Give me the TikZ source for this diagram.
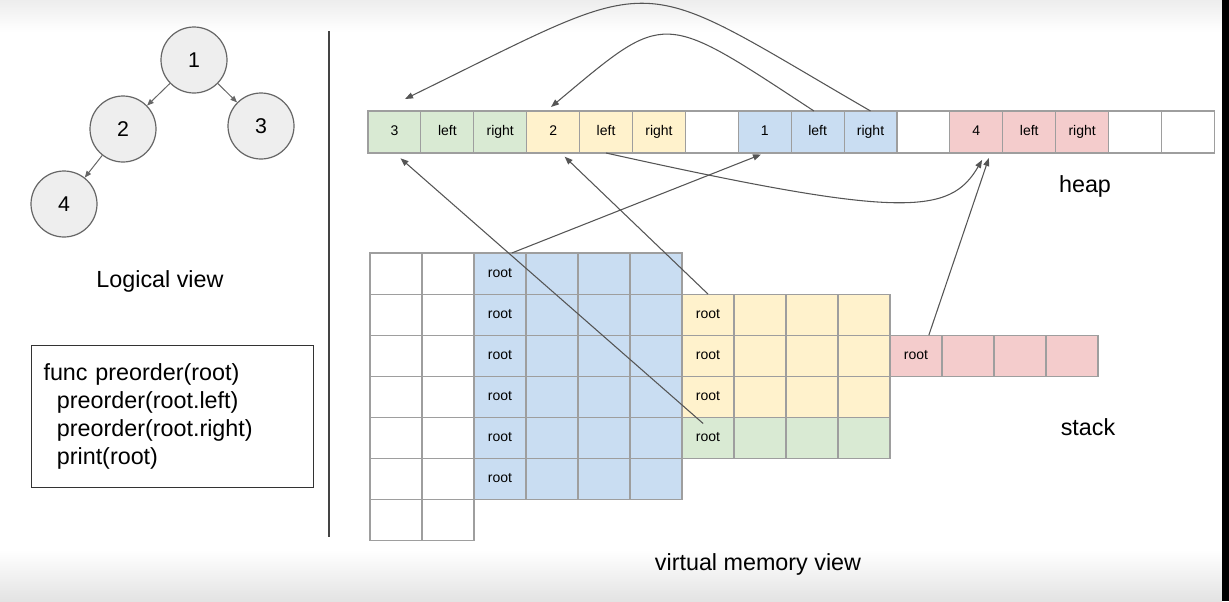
\documentclass[tikz,border=0pt]{standalone}
\usepackage{fontspec}
\setmainfont{Liberation Sans}
\usetikzlibrary{arrows.meta}

\definecolor{cellgreen}{HTML}{D9EAD3}
\definecolor{cellyellow}{HTML}{FFF2CC}
\definecolor{cellblue}{HTML}{C9DDF2}
\definecolor{cellpink}{HTML}{F4CCCC}
\definecolor{cellline}{HTML}{9E9E9E}
\definecolor{ptrline}{HTML}{555555}
\definecolor{treefill}{HTML}{EEEEEE}
\definecolor{treeline}{HTML}{666666}
\definecolor{divline}{HTML}{444444}

\begin{document}
\begin{tikzpicture}[x=0.75pt,y=0.75pt,yscale=-1,xscale=1,
  cell/.style={draw=cellline, line width=0.8pt, inner sep=0pt, outer sep=0pt, text height=7.5pt, text depth=2pt, font=\fontsize{10.5}{12}\selectfont},
  heapcell/.style={cell, minimum width=39.675pt, minimum height=31.5pt},
  stackcell/.style={cell, minimum width=39pt, minimum height=30.8pt},
  treenode/.style={circle, draw=treeline, fill=treefill, line width=0.9pt, minimum size=49.5pt, inner sep=0pt, font=\fontsize{16}{19}\selectfont},
  treeedge/.style={draw=treeline, line width=0.75pt, -{Triangle[length=5pt,width=4pt]}},
  viewtext/.style={font=\fontsize{17.5}{20}\selectfont},
  ptr/.style={draw=ptrline, line width=0.8pt, -{Triangle[length=6pt,width=4.5pt]}}
]
\useasboundingbox (0,0) rectangle (1229,601);

%Background strips
\shade[top color=black!7, bottom color=white] (0,0) rectangle (1222,32);
\shade[top color=white, bottom color=black!11] (0,550) rectangle (1222,601);
\fill[black] (1222,0) rectangle (1229,601);

%Logical view: tree
\node[treenode] (n1) at (194,60) {1};
\node[treenode] (n2) at (123,129) {2};
\node[treenode] (n3) at (261,126) {3};
\node[treenode] (n4) at (64,204) {4};
\draw[treeedge] (n1) -- (n2);
\draw[treeedge] (n1) -- (n3);
\draw[treeedge] (n2) -- (n4);
% Text Node
\node[viewtext] (logical) at (160,281) {Logical view};

%Code box
\node[draw=black!80, line width=0.8pt, anchor=north west, minimum width=211.5pt, minimum height=106.5pt,
  text width=193.5pt, inner xsep=9pt, align=left, font=\fontsize{17.5}{21}\selectfont] (code) at (31,345)
  {func preorder(root)\\\hspace*{10pt}preorder(root.left)\\\hspace*{10pt}preorder(root.right)\\\hspace*{10pt}print(root)};

%Divider
\draw[draw=divline, line width=1pt] (329,31) -- (329,537);

%Heap row
\foreach \i/\t/\c in {0/3/cellgreen,1/left/cellgreen,2/right/cellgreen,3/2/cellyellow,4/left/cellyellow,5/right/cellyellow,6//white,7/1/cellblue,8/left/cellblue,9/right/cellblue,10//white,11/4/cellpink,12/left/cellpink,13/right/cellpink,14//white,15//white}
  \node[heapcell, fill=\c] (h\i) at ({394.45+52.9*\i},132) {\t};
% Text Node
\node[viewtext] (heap) at (1085,186) {heap};

%Stack: free columns
\foreach \r in {0,...,6} \foreach \c in {0,1}
  \node[stackcell] (s\r-\c) at ({396+52*\c},{273.5+41.1*\r}) {};
%Stack: frame of preorder(1)
\foreach \r in {0,...,5} \foreach \c in {2,...,5}
  \node[stackcell, fill=cellblue] (s\r-\c) at ({396+52*\c},{273.5+41.1*\r}) {\ifnum\c=2 root\fi};
%Stack: frame of preorder(2)
\foreach \r in {1,2,3} \foreach \c in {6,...,9}
  \node[stackcell, fill=cellyellow] (s\r-\c) at ({396+52*\c},{273.5+41.1*\r}) {\ifnum\c=6 root\fi};
%Stack: frame of preorder(3)
\foreach \c in {6,...,9}
  \node[stackcell, fill=cellgreen] (s4-\c) at ({396+52*\c},{273.5+41.1*4}) {\ifnum\c=6 root\fi};
%Stack: frame of preorder(4)
\foreach \c in {10,...,13}
  \node[stackcell, fill=cellpink] (s2-\c) at ({396+52*\c},{273.5+41.1*2}) {\ifnum\c=10 root\fi};
% Text Node
\node[viewtext] (stack) at (1088,427) {stack};
% Text Node
\node[viewtext] (vmem) at (758,564) {virtual memory view};

%Pointers from stack to heap
\draw[ptr, shorten >=3pt] (s0-2.60) -- (h7.south);
\draw[ptr, shorten >=6pt, shorten <=-7pt] (s4-6.120) -- (h0.south);
\draw[ptr, shorten >=4pt] (s1-6.north) -- (h3.-70);
\draw[ptr, shorten >=4pt] (s2-10.58) -- (h11.-56);

%Pointers inside heap
\coordinate (t3) at (405,99);
\coordinate (t2) at (551,107);
\draw[ptr] (h9.north) .. controls (627,-30) and (669,-30) .. (t3);
\draw[ptr] (h8.100) .. controls (660,10) and (667,10) .. (t2);
\draw[ptr, shorten >=6pt] (h4.south) .. controls (903,219) and (950,215) .. (h11.-65);

\end{tikzpicture}
\end{document}
